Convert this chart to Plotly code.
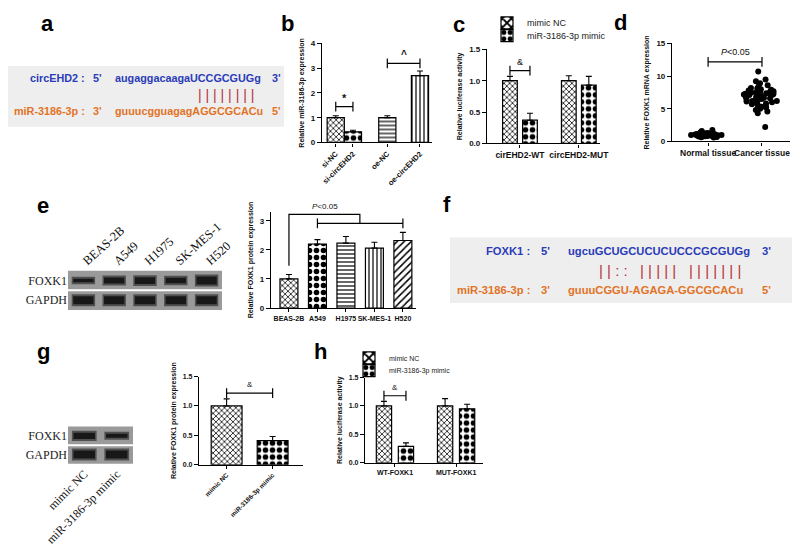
import plotly.graph_objects as go

# page body has an 8px margin: figure is 792x541 placed at (8, 8)
OFF = 8
W, H = 800 - OFF, 549 - OFF


def X(px):
    return (px - OFF) / W


def Y(py):
    return 1 - (py - OFF) / H


# ---------------- data ----------------
b_groups = ["si-NC", "si-circEHD2", "oe-NC", "oe-circEHD2"]
b_values = [1.0, 0.43, 1.0, 2.70]
b_errors = [0.08, 0.06, 0.08, 0.19]

c_groups = ["cirEHD2-WT", "circEHD2-MUT"]
c_mimic_nc = [1.0, 1.0]
c_mimic_nc_err = [0.07, 0.08]
c_mir_mimic = [0.37, 0.93]
c_mir_mimic_err = [0.11, 0.14]

d_groups = ["Normal tissue", "Cancer tissue"]
d_normal = [0.6, 0.65, 0.7, 0.75, 0.8, 0.8, 0.85, 0.85, 0.9, 0.9, 0.9, 0.95, 0.95,
            1.0, 1.0, 1.0, 1.0, 1.05, 1.05, 1.1, 1.1, 1.1, 1.15, 1.15, 1.2, 1.2,
            1.25, 1.3, 1.3, 1.4, 1.5, 1.6, 1.75]
d_cancer = [2.2, 4.3, 4.6, 4.8, 5.0, 5.2, 5.3, 5.5, 5.6, 5.7, 5.8, 5.9, 6.0, 6.1,
            6.2, 6.2, 6.3, 6.4, 6.5, 6.5, 6.6, 6.7, 6.7, 6.8, 6.9, 6.9, 7.0, 7.0,
            7.1, 7.2, 7.2, 7.3, 7.3, 7.4, 7.5, 7.5, 7.6, 7.6, 7.7, 7.8, 7.9, 8.0,
            8.1, 8.2, 8.4, 8.6, 8.9, 9.2, 9.5, 10.7]

e_lines = ["BEAS-2B", "A549", "H1975", "SK-MES-1", "H520"]
e_values = [1.0, 2.20, 2.23, 2.06, 2.32]
e_errors = [0.15, 0.15, 0.23, 0.20, 0.28]
e_blot_foxk1 = [0.45, 0.75, 0.85, 0.70, 1.0]
e_blot_gapdh = [1.0, 1.0, 1.0, 1.0, 1.0]

g_groups = ["mimic NC", "miR-3186-3p mimic"]
g_values = [1.0, 0.41]
g_errors = [0.12, 0.07]
g_blot_foxk1 = [0.8, 0.5]
g_blot_gapdh = [1.0, 1.0]

h_groups = ["WT-FOXK1", "MUT-FOXK1"]
h_mimic_nc = [1.0, 1.0]
h_mimic_nc_err = [0.08, 0.13]
h_mir_mimic = [0.29, 0.95]
h_mir_mimic_err = [0.06, 0.08]

legend_names = ["mimic NC", "miR-3186-3p mimic"]

# ---------------- styles ----------------
SANS = "Liberation Sans, Arial, sans-serif"
SERIF = "Liberation Serif, Times New Roman, serif"
BLUE = "#2a3cb8"
ORANGE = "#e27326"
RED = "#b8323c"

PAT = {
    "fine": dict(shape="x", size=4, solidity=0.35),
    "check": dict(shape=".", size=7, solidity=0.5),
    "hline": dict(shape="-", size=4, solidity=0.3),
    "vline": dict(shape="|", size=4, solidity=0.3),
    "diag": dict(shape="/", size=5, solidity=0.3),
}


def pattern(keys):
    return dict(shape=[PAT[k]["shape"] for k in keys],
                size=[PAT[k]["size"] for k in keys],
                solidity=[PAT[k]["solidity"] for k in keys],
                fgcolor="black", bgcolor="white", fillmode="replace")


def tfont(size=8, bold=True, family=SANS):
    return dict(family=family, size=size, color="#111", weight="bold" if bold else "normal")


def err(arr):
    return dict(type="data", symmetric=False, array=arr, arrayminus=[0] * len(arr),
                color="black", thickness=1.1, width=3)


def yax(dom, rng, dtick, title, anchor, fmt=None, size=8):
    d = dict(domain=dom, range=rng, dtick=dtick, tick0=0, showline=True, linecolor="black",
             linewidth=1.2, ticks="outside", ticklen=4, tickwidth=1.2, tickcolor="black",
             showgrid=False, zeroline=False, tickfont=tfont(size), anchor=anchor,
             automargin=False, fixedrange=True,
             title=dict(text=title, font=tfont(7), standoff=5))
    if fmt:
        d["tickformat"] = fmt
    return d


def xax(dom, rng, anchor, size=8, angle=0, **kw):
    d = dict(domain=dom, range=rng, showline=True, linecolor="black", linewidth=1.2,
             ticks="outside", ticklen=3, tickwidth=1.1, tickcolor="black", showgrid=False,
             zeroline=False, tickfont=tfont(size), anchor=anchor, automargin=False,
             fixedrange=True, tickangle=angle)
    d.update(kw)
    return d


def bracket(fig, xs, ys, xa, ya, caps=True):
    fig.add_trace(go.Scatter(x=xs, y=ys, mode="lines", line=dict(color="black", width=1.2),
                             xaxis=xa, yaxis=ya, showlegend=False, hoverinfo="skip"))
    if caps:
        fig.add_trace(go.Scatter(x=[xs[0], xs[-1]], y=[ys[0], ys[-1]], mode="markers",
                                 marker=dict(symbol="line-ns-open", size=7, color="black",
                                             line=dict(color="black", width=1.2)),
                                 xaxis=xa, yaxis=ya, showlegend=False, hoverinfo="skip"))


def bar_marker(keys):
    return dict(color="white", line=dict(color="black", width=1.2), pattern=pattern(keys))


fig = go.Figure()
annotations = []
shapes = []

# ---------------- panel b ----------------
b_pos = [0, 1, 3, 4.9]
fig.add_trace(go.Bar(x=b_pos, y=b_values, width=1.0, error_y=err(b_errors),
                     marker=bar_marker(["fine", "check", "hline", "vline"]),
                     xaxis="x", yaxis="y", showlegend=False))
bracket(fig, [b_pos[0], b_pos[1]], [1.45, 1.45], "x", "y")
bracket(fig, [b_pos[2], b_pos[3]], [3.2, 3.2], "x", "y")
annotations += [dict(x=(b_pos[0] + b_pos[1]) / 2, y=1.48, xref="x", yref="y", text="*",
                     showarrow=False, yanchor="bottom", font=tfont(11)),
                dict(x=(b_pos[2] + b_pos[3]) / 2, y=3.25, xref="x", yref="y", text="^",
                     showarrow=False, yanchor="bottom", font=tfont(10))]

# ---------------- panel c ----------------
c_x = list(range(len(c_groups)))
fig.add_trace(go.Bar(x=c_x, y=c_mimic_nc, width=0.25, offset=-0.295,
                     error_y=err(c_mimic_nc_err), name=legend_names[0],
                     marker=bar_marker(["fine", "fine"]),
                     xaxis="x2", yaxis="y2", legend="legend"))
fig.add_trace(go.Bar(x=c_x, y=c_mir_mimic, width=0.25, offset=0.045,
                     error_y=err(c_mir_mimic_err), name=legend_names[1],
                     marker=bar_marker(["check", "check"]),
                     xaxis="x2", yaxis="y2", legend="legend3"))
bracket(fig, [c_x[0] - 0.17, c_x[0] + 0.17], [1.16, 1.16], "x2", "y2")
annotations.append(dict(x=c_x[0], y=1.19, xref="x2", yref="y2", text="&", showarrow=False,
                        yanchor="bottom", font=tfont(9, bold=False)))

# ---------------- panel d ----------------
fig.add_trace(go.Box(y=d_normal, x=[d_groups[0]] * len(d_normal), boxpoints="all", jitter=1,
                     pointpos=0, width=0.65, fillcolor="rgba(0,0,0,0)",
                     line=dict(color="rgba(0,0,0,0)", width=0),
                     marker=dict(color="black", size=6), xaxis="x3", yaxis="y3",
                     showlegend=False, hoveron="points"))
fig.add_trace(go.Box(y=d_cancer, x=[d_groups[1]] * len(d_cancer), boxpoints="all", jitter=1,
                     pointpos=0, width=0.72, fillcolor="rgba(0,0,0,0)",
                     line=dict(color="rgba(0,0,0,0)", width=0),
                     marker=dict(color="black", size=6), xaxis="x3", yaxis="y3",
                     showlegend=False, hoveron="points"))
bracket(fig, d_groups, [12.2, 12.2], "x3", "y3")
annotations.append(dict(x=0.5, y=12.6, xref="x3", yref="y3", text="<i>P</i><0.05",
                        showarrow=False, yanchor="bottom", font=tfont(9, bold=False)))


# ---------------- blots ----------------
def blot(fig, intens_top, intens_bot, xa, ya, half=0.38, wmax=8):
    for row, vals in ((1, intens_top), (0, intens_bot)):
        for i, v in enumerate(vals):
            w = max(2.0, wmax * v)
            fig.add_trace(go.Scatter(x=[i - half, i + half], y=[row, row], mode="lines",
                                     line=dict(color="#505050", width=w + 4),
                                     xaxis=xa, yaxis=ya, showlegend=False, hoverinfo="skip"))
            fig.add_trace(go.Scatter(x=[i - half + 0.05, i + half - 0.05], y=[row, row],
                                     mode="lines", line=dict(color="#181818", width=w),
                                     xaxis=xa, yaxis=ya, showlegend=False, hoverinfo="skip"))


blot(fig, e_blot_foxk1, e_blot_gapdh, "x4", "y4")
blot(fig, g_blot_foxk1, g_blot_gapdh, "x6", "y6")

# ---------------- panel e bars ----------------
e_x = list(range(len(e_lines)))
fig.add_trace(go.Bar(x=e_x, y=e_values, width=0.63, error_y=err(e_errors),
                     marker=bar_marker(["fine", "check", "hline", "vline", "diag"]),
                     xaxis="x5", yaxis="y5", showlegend=False))
bracket(fig, [e_x[0], e_x[0], 2.49, 2.49], [1.45, 3.22, 3.22, 2.91], "x5", "y5", caps=False)
bracket(fig, [e_x[1], e_x[-1]], [2.91, 2.91], "x5", "y5")
annotations.append(dict(x=1.25, y=3.28, xref="x5", yref="y5", text="<i>P</i><0.05",
                        showarrow=False, yanchor="bottom", font=tfont(8, bold=False)))

# ---------------- panel g bars ----------------
fig.add_trace(go.Bar(x=g_groups, y=g_values, width=0.67, error_y=err(g_errors),
                     marker=bar_marker(["fine", "check"]),
                     xaxis="x7", yaxis="y7", showlegend=False))
bracket(fig, g_groups, [1.22, 1.22], "x7", "y7")
annotations.append(dict(x=0.5, y=1.25, xref="x7", yref="y7", text="&", showarrow=False,
                        yanchor="bottom", font=tfont(8, bold=False)))

# ---------------- panel h ----------------
h_x = list(range(len(h_groups)))
fig.add_trace(go.Bar(x=h_x, y=h_mimic_nc, width=0.25, offset=-0.305,
                     error_y=err(h_mimic_nc_err), name=legend_names[0],
                     marker=bar_marker(["fine", "fine"]),
                     xaxis="x8", yaxis="y8", legend="legend2"))
fig.add_trace(go.Bar(x=h_x, y=h_mir_mimic, width=0.25, offset=0.055,
                     error_y=err(h_mir_mimic_err), name=legend_names[1],
                     marker=bar_marker(["check", "check"]),
                     xaxis="x8", yaxis="y8", legend="legend4"))
bracket(fig, [h_x[0] - 0.18, h_x[0] + 0.18], [1.18, 1.18], "x8", "y8")
annotations.append(dict(x=h_x[0], y=1.21, xref="x8", yref="y8", text="&", showarrow=False,
                        yanchor="bottom", font=tfont(8, bold=False)))


# ---------------- sequence panels ----------------
def seq_line(label, end5, seq, end3, color, y, x_label_r, x5, xseq, x3, size):
    f = dict(family=SANS, size=size, color=color, weight="bold")
    return [
        dict(x=X(x_label_r), y=Y(y), text=label, xanchor="right", font=f),
        dict(x=X(x5), y=Y(y), text=end5, xanchor="left", font=f),
        dict(x=X(xseq), y=Y(y), text=seq, xanchor="left", font=f),
        dict(x=X(x3), y=Y(y), text=end3, xanchor="left", font=f),
    ]


seq_a = [
    ("circEHD2 :", "5'", "augaggacaagaUCCGCGUGg", "3'", BLUE, 68),
    ("miR-3186-3p :", "3'", "guuucgguagagAGGCGCACu", "5'", ORANGE, 102),
]
seq_f = [
    ("FOXK1 :", "5'", "ugcuGCUGCUCUCUCCCGCGUGg", "3'", BLUE, 245),
    ("miR-3186-3p :", "3'", "guuuCGGU-AGAGA-GGCGCACu", "5'", ORANGE, 285),
]
shapes.append(dict(type="rect", xref="paper", yref="paper", x0=X(3), x1=X(284), y0=Y(118),
                   y1=Y(56), fillcolor="#eeeeee", line=dict(width=0), layer="below"))
shapes.append(dict(type="rect", xref="paper", yref="paper", x0=X(450), x1=X(792), y0=Y(298),
                   y1=Y(231), fillcolor="#eeeeee", line=dict(width=0), layer="below"))
for lab, e5, s, e3, col, yy in seq_a:
    for a in seq_line(lab, e5, s, e3, col, yy, 87, 91, 113, 270, 10.8):
        a.update(xref="paper", yref="paper", showarrow=False, yanchor="middle")
        annotations.append(a)
for lab, e5, s, e3, col, yy in seq_f:
    for a in seq_line(lab, e5, s, e3, col, yy, 532, 539, 566, 760, 11.2):
        a.update(xref="paper", yref="paper", showarrow=False, yanchor="middle")
        annotations.append(a)

bar_font = dict(family=SANS, size=14, color=RED)
annotations.append(dict(x=X(226), y=Y(86), xref="paper", yref="paper", text="| | | | | | | |",
                        showarrow=False, xanchor="center", yanchor="middle", font=bar_font))
bar_font2 = dict(family=SANS, size=15, color=RED)
for txt, xc in (("| | : :", 613), ("| | | | |", 658), ("| | | | | | |", 715)):
    annotations.append(dict(x=X(xc), y=Y(265), xref="paper", yref="paper", text=txt,
                            showarrow=False, xanchor="center", yanchor="middle",
                            font=bar_font2))

# ---------------- panel letters ----------------
for letter, px, py in (("a", 47, 13), ("b", 287, 13), ("c", 459, 14), ("d", 620, 12),
                       ("e", 43, 198), ("f", 447, 197), ("g", 43, 347), ("h", 320, 347)):
    annotations.append(dict(x=X(px), y=Y(py), xref="paper", yref="paper", text=letter,
                            showarrow=False, xanchor="center", yanchor="middle",
                            font=dict(family=SANS, size=22, color="black", weight="bold")))

# blot backgrounds and separators
for xa, ya in (("x4", "y4"), ("x6", "y6")):
    shapes.append(dict(type="rect", xref=f"{xa} domain", yref=f"{ya} domain", x0=0, x1=1,
                       y0=0, y1=1, fillcolor="#9a9a9a", line=dict(width=0), layer="below"))
    shapes.append(dict(type="line", xref=f"{xa} domain", yref=ya, x0=0, x1=1, y0=0.5, y1=0.5,
                       line=dict(color="white", width=2), layer="above"))

# ---------------- layout ----------------
blot_y = dict(range=[-0.5, 1.5], tickvals=[1, 0], ticktext=["FOXK1", "GAPDH"], showline=False,
              showgrid=False, zeroline=False, ticks="", automargin=False, fixedrange=True,
              tickfont=dict(family=SERIF, size=12, color="#222"))


def leg(xp, yp, size):
    return dict(x=X(xp), y=Y(yp), xanchor="left", yanchor="middle", bgcolor="rgba(0,0,0,0)",
                font=dict(family=SANS, size=size, color="#222"), itemwidth=30,
                tracegroupgap=0, borderwidth=0)


fig.update_layout(
    width=W, height=H, template="none", paper_bgcolor="white", plot_bgcolor="rgba(0,0,0,0)",
    margin=dict(l=0, r=0, t=0, b=0), barmode="overlay", boxmode="overlay",
    annotations=annotations, shapes=shapes,
    # b
    xaxis=xax([X(322), X(432)], [-0.8, 5.6], "y", size=7.5, angle=-45,
              tickvals=b_pos, ticktext=b_groups),
    yaxis=yax([Y(134), Y(33)], [0, 4], 1, "Relative miR-3186-3p expression", "x"),
    # c
    xaxis2=xax([X(487), X(600)], [-0.56, 1.36], "y2", size=8.5, type="linear",
               tickvals=c_x, ticktext=c_groups),
    yaxis2=yax([Y(135), Y(39)], [0, 1.5], 0.5, "Relative luciferase activity", "x2", fmt=".1f"),
    # d
    xaxis3=xax([X(672), X(790)], [-0.67, 1.52], "y3", size=8.5),
    yaxis3=yax([Y(133), Y(33)], [0, 15], 5, "Relative FOXK1 mRNA expression", "x3"),
    # e blot
    xaxis4=dict(domain=[X(68), X(222)], range=[-0.5, 4.5], anchor="y4", side="top",
                tickvals=e_x, ticktext=e_lines, tickangle=-42, showline=False, showgrid=False,
                zeroline=False, ticks="", automargin=False, fixedrange=True,
                tickfont=dict(family=SERIF, size=12.5, color="#111")),
    yaxis4=dict(domain=[Y(305), Y(265)], anchor="x4", **blot_y),
    # e bars
    xaxis5=xax([X(271), X(416)], [-0.63, 4.46], "y5", size=7, type="linear",
               tickvals=e_x, ticktext=e_lines),
    yaxis5=yax([Y(303), Y(205)], [0, 3.3], 1, "Relative FOXK1 protein expression", "x5"),
    # g blot
    xaxis6=dict(domain=[X(68), X(133)], range=[-0.5, 1.5], anchor="y6", side="bottom",
                tickvals=[0, 1], ticktext=g_groups, tickangle=-45, showline=False,
                showgrid=False, zeroline=False, ticks="", automargin=False, fixedrange=True,
                tickfont=dict(family=SERIF, size=12, color="#111")),
    yaxis6=dict(domain=[Y(462), Y(424)], anchor="x6", **blot_y),
    # g bars
    xaxis7=xax([X(199), X(303)], [-0.6, 1.66], "y7", size=6.5, angle=-45),
    yaxis7=yax([Y(463), Y(373)], [0, 1.5], 0.5, "Relative FOXK1 protein expression", "x7",
               fmt=".1f", size=7),
    # h
    xaxis8=xax([X(365), X(483)], [-0.49, 1.44], "y8", size=7, type="linear",
               tickvals=h_x, ticktext=h_groups),
    yaxis8=yax([Y(461), Y(374)], [0, 1.5], 0.5, "Relative luciferase activity", "x8",
               fmt=".1f", size=7),
    legend=leg(487, 12, 9),
    legend3=leg(487, 25, 9),
    legend2=leg(349, 354, 7),
    legend4=leg(349, 367, 7),
)

fig.write_html("out.html")
